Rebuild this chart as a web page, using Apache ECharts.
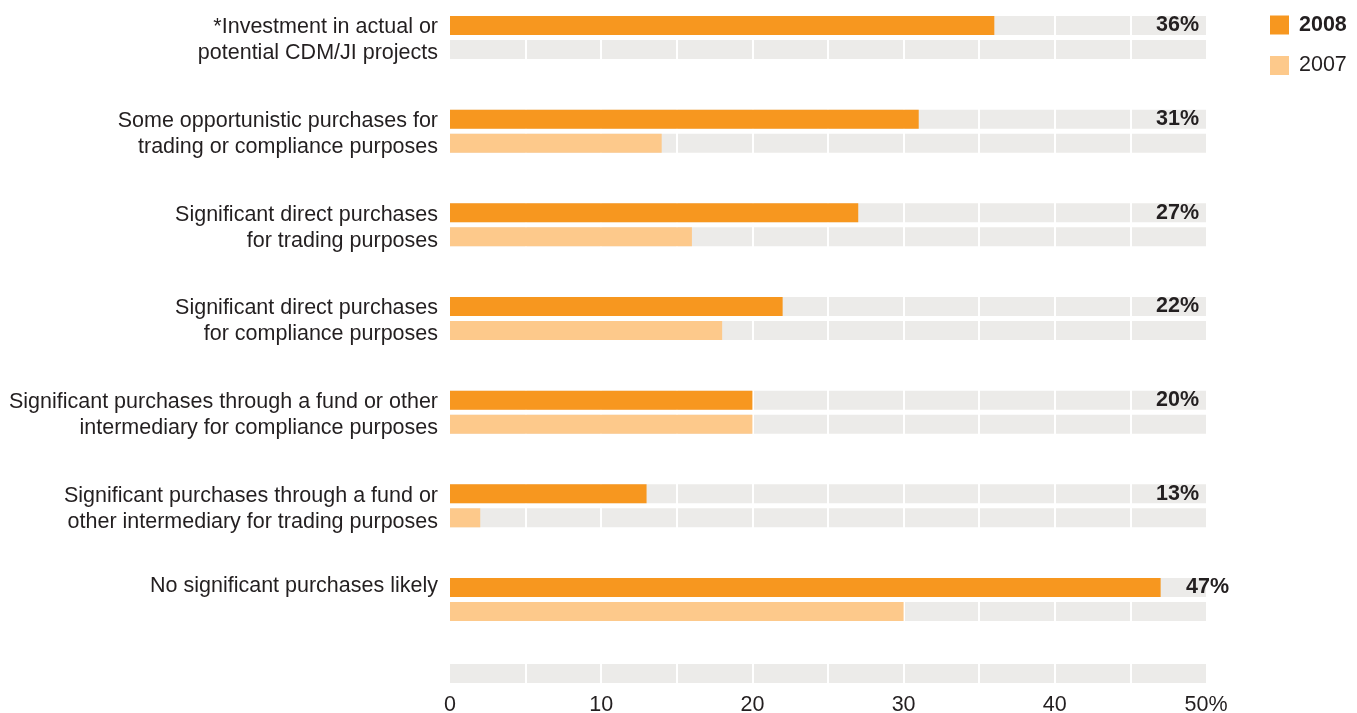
<!DOCTYPE html>
<html>
<head>
<meta charset="utf-8">
<script src="https://cdn.jsdelivr.net/npm/echarts@6/dist/echarts.min.js"></script>
<style>
html,body{margin:0;padding:0;background:#fff;}
#chart{width:1357px;height:713px;}
</style>
</head>
<body>
<div id="chart"></div>
<script>
const categories = [
  "*Investment in actual or\npotential CDM/JI projects",
  "Some opportunistic purchases for\ntrading or compliance purposes",
  "Significant direct purchases\nfor trading purposes",
  "Significant direct purchases\nfor compliance purposes",
  "Significant purchases through a fund or other\nintermediary for compliance purposes",
  "Significant purchases through a fund or\nother intermediary for trading purposes",
  "No significant purchases likely"
];
const values2008 = [36, 31, 27, 22, 20, 13, 47];
const values2007 = [null, 14, 16, 18, 20, 2, 30];
const seriesNames = ["2008", "2007"];
const tickLabels = ["0", "10", "20", "30", "40", "50%"];
const axisMax = 50;

const C2008 = "#F7971F", C2007 = "#FDC98B", TRACK = "#ECEBE9", TXT = "#231F20";
const FONT = "'Liberation Sans', Arial, Helvetica, sans-serif";
const FS = 21.5;

const labelTrack = values2008.map(v => {
  const item = { value: axisMax };
  if (v > axisMax - 6) item.label = { offset: [30, 0] };
  return item;
});
const plainTrack = categories.map(() => axisMax);

function xAxisCfg(gridIndex, showLabels) {
  return {
    type: "value", gridIndex: gridIndex, min: 0, max: axisMax, interval: 5, z: 2,
    axisLine: { show: false }, axisTick: { show: false },
    splitLine: { show: true, showMinLine: false, showMaxLine: false, lineStyle: { color: "#ffffff", width: 2 } },
    axisLabel: {
      show: showLabels, color: TXT, fontSize: FS, fontFamily: FONT, margin: 11,
      formatter: v => (v % 10 === 0 ? tickLabels[v / 10] : "")
    }
  };
}

function catLabel(v) {
  const lines = v.split("\n");
  if (lines.length > 1) {
    return "{gap| }\n" + lines.map(l => "{t|" + l + "}").join("\n");
  }
  return "{t|" + v + "}\n{t| }";
}

const chart = echarts.init(document.getElementById("chart"), null, { renderer: "canvas" });
chart.setOption({
  animation: false,
  backgroundColor: "#ffffff",
  textStyle: { fontFamily: FONT },
  legend: {
    orient: "vertical", left: 1270, top: 14, padding: 0, itemWidth: 19, itemHeight: 19, itemGap: 18.5,
    icon: "rect",
    data: [
      { name: seriesNames[0], textStyle: { fontWeight: "bold" } },
      { name: seriesNames[1] }
    ],
    textStyle: { color: TXT, fontSize: FS, fontFamily: FONT, padding: [0, 0, 0, 5] }
  },
  grid: [
    { left: 450, width: 756, top: -9.33, height: 655.67, outerBoundsMode: "none", containLabel: false },
    { left: 450, width: 756, top: 664, height: 19, outerBoundsMode: "none", containLabel: false }
  ],
  xAxis: [xAxisCfg(0, false), xAxisCfg(1, true)],
  yAxis: [
    {
      type: "category", gridIndex: 0, inverse: true, data: categories,
      axisLine: { show: false }, axisTick: { show: false }, splitLine: { show: false },
      axisLabel: {
        color: TXT, fontSize: FS, fontFamily: FONT, margin: 12, align: "right",
        formatter: catLabel,
        rich: {
          t: { color: TXT, fontSize: FS, fontFamily: FONT, lineHeight: 26, align: "right" },
          gap: { fontSize: 6, lineHeight: 6, align: "right" }
        }
      }
    },
    { type: "category", gridIndex: 0, inverse: true, data: categories, show: false },
    { type: "category", gridIndex: 1, data: [""], show: false }
  ],
  series: [
    {
      name: "track2008", type: "bar", xAxisIndex: 0, yAxisIndex: 1, z: 1, silent: true,
      barWidth: 19, barGap: "26%", itemStyle: { color: TRACK },
      label: {
        show: true, position: "insideRight", distance: 7, color: TXT, fontSize: FS, fontWeight: "bold", fontFamily: FONT,
        formatter: p => values2008[p.dataIndex] + "%"
      },
      data: labelTrack
    },
    {
      name: "track2007", type: "bar", xAxisIndex: 0, yAxisIndex: 1, z: 1, silent: true,
      barWidth: 19, barGap: "26%", itemStyle: { color: TRACK }, data: plainTrack
    },
    {
      name: seriesNames[0], type: "bar", xAxisIndex: 0, yAxisIndex: 0, z: 3,
      barWidth: 19, barGap: "26%", itemStyle: { color: C2008 }, data: values2008
    },
    {
      name: seriesNames[1], type: "bar", xAxisIndex: 0, yAxisIndex: 0, z: 3,
      barWidth: 19, barGap: "26%", itemStyle: { color: C2007 }, data: values2007
    },
    {
      name: "axisStrip", type: "bar", xAxisIndex: 1, yAxisIndex: 2, z: 1, silent: true,
      barWidth: 19, itemStyle: { color: TRACK }, data: [axisMax]
    }
  ]
});
</script>
</body>
</html>
